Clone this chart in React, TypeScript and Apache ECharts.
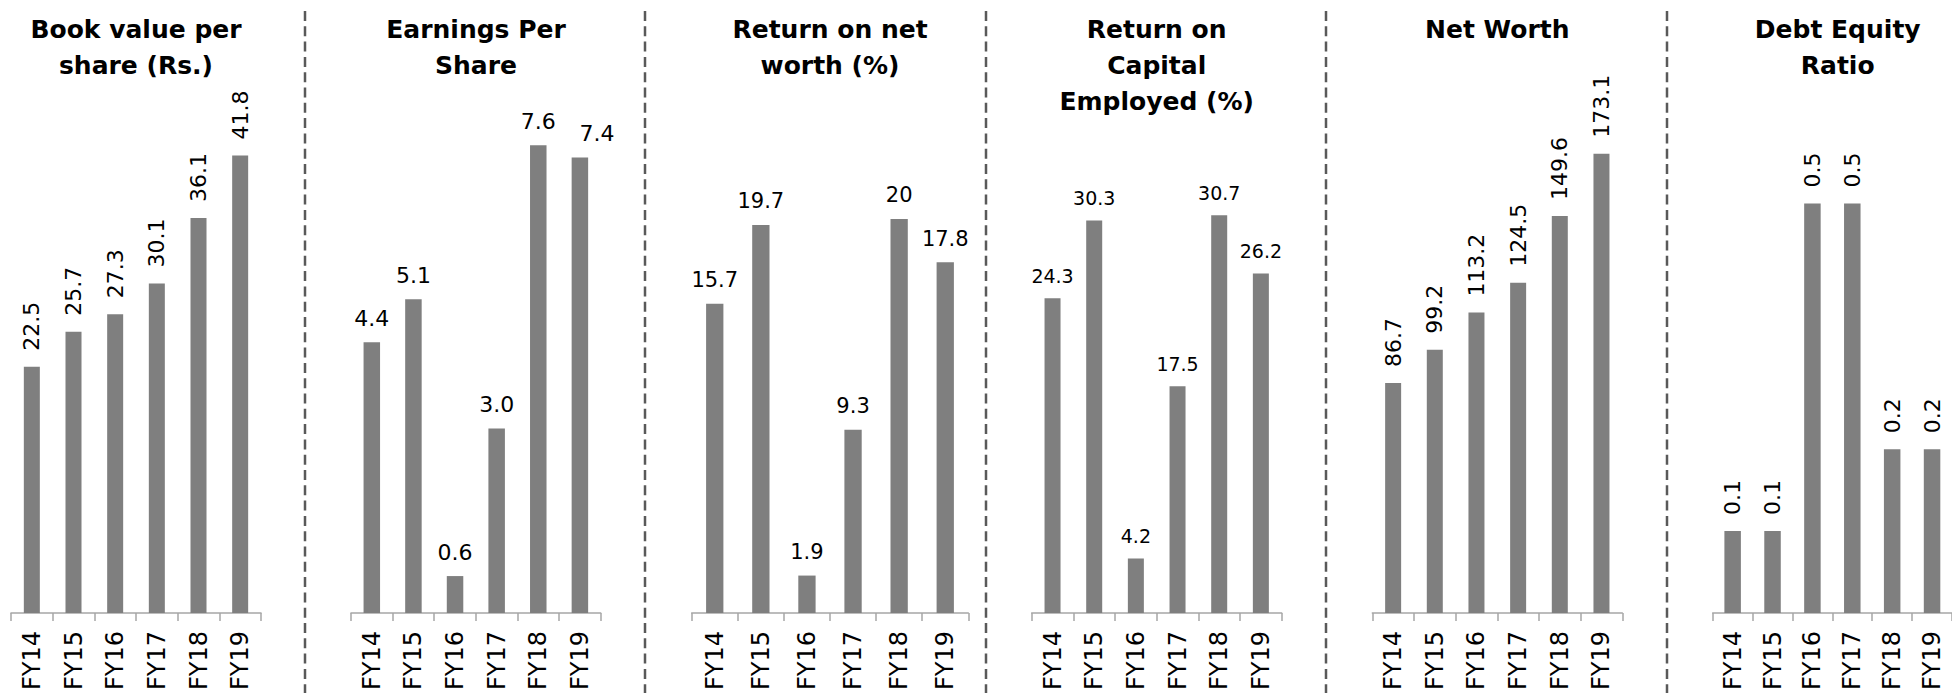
import React, { useEffect, useRef } from "react";
import * as echarts from "echarts";

const categories = ["FY14", "FY15", "FY16", "FY17", "FY18", "FY19"];
const bookValue = [22.5, 25.7, 27.3, 30.1, 36.1, 41.8];
const eps = [4.4, 5.1, 0.6, 3.0, 7.6, 7.4];
const ronw = [15.7, 19.7, 1.9, 9.3, 20, 17.8];
const roce = [24.3, 30.3, 4.2, 17.5, 30.7, 26.2];
const netWorth = [86.7, 99.2, 113.2, 124.5, 149.6, 173.1];
const debtEquity = [0.1, 0.1, 0.5, 0.5, 0.2, 0.2];
const titles = [
  "Book value per\nshare (Rs.)",
  "Earnings Per\nShare",
  "Return on net\nworth (%)",
  "Return on\nCapital\nEmployed (%)",
  "Net Worth",
  "Debt Equity\nRatio",
];

export default function App() {
  const ref = useRef<HTMLDivElement>(null);
  useEffect(() => {
    if (!ref.current) return;
    const chart = echarts.init(ref.current, null, { renderer: "svg" });
    const axisBottom = 613.5;
    const H = 693;
    const panels = [
      { data: bookValue, left: 11, width: 250, max: 45, ppu: 10.955, bw: 16, rot: true, fs: 22, fmt: (v: number) => v.toFixed(1) },
      { data: eps, left: 351, width: 249.7, max: 8, ppu: 61.6, bw: 16.5, rot: false, fs: 22, fmt: (v: number) => v.toFixed(1) },
      { data: ronw, left: 691.7, width: 276.6, max: 25, ppu: 19.72, bw: 17.3, rot: false, fs: 21, fmt: (v: number) => String(v) },
      { data: roce, left: 1031.7, width: 250, max: 35, ppu: 12.97, bw: 16, rot: false, fs: 19, fmt: (v: number) => String(v) },
      { data: netWorth, left: 1372.3, width: 250, max: 200, ppu: 2.656, bw: 16, rot: true, fs: 22, fmt: (v: number) => v.toFixed(1) },
      { data: debtEquity, left: 1712.7, width: 250, max: 0.6, ppu: 820, bw: 16.5, rot: true, fs: 22, fmt: (v: number) => v.toFixed(1) },
    ];
    const grid: any[] = [];
    const xAxis: any[] = [];
    const yAxis: any[] = [];
    const series: any[] = [];
    panels.forEach((p, i) => {
      const top = axisBottom - p.max * p.ppu;
      grid.push({ left: p.left, width: p.width, top, bottom: H - axisBottom, containLabel: false });
      xAxis.push({
        type: "category",
        gridIndex: i,
        data: categories,
        boundaryGap: true,
        axisLine: { show: true, lineStyle: { color: "#a6a6a6", width: 1.5 } },
        axisTick: { show: true, length: 8, alignWithLabel: false, lineStyle: { color: "#a6a6a6", width: 1.5 } },
        axisLabel: { rotate: 90, fontSize: 24, margin: 18, color: "#000", interval: 0, fontFamily: "DejaVu Sans" },
        splitLine: { show: false },
      });
      yAxis.push({ type: "value", gridIndex: i, min: 0, max: p.max, show: false, splitLine: { show: false } });
      const label: any = p.rot
        ? { show: true, position: "top", rotate: 90, align: "left", verticalAlign: "middle", distance: 16, fontSize: p.fs, color: "#000", fontFamily: "DejaVu Sans", formatter: (d: any) => p.fmt(d.value) }
        : { show: true, position: "top", distance: 13, fontSize: p.fs, color: "#000", fontFamily: "DejaVu Sans", formatter: (d: any) => p.fmt(d.value) };
      const data = p.data.map((v, j) => {
        if (i === 1 && j === 5) return { value: v, label: { offset: [17, 0] } };
        return v;
      });
      series.push({
        type: "bar",
        xAxisIndex: i,
        yAxisIndex: i,
        data,
        barWidth: p.bw,
        itemStyle: { color: "#7f7f7f" },
        label,
      });
    });
    const separators = [305, 645, 986, 1326, 1667];
    const graphic: any[] = separators.map((x) => ({
      type: "line",
      shape: { x1: x, y1: 11, x2: x, y2: 693 },
      style: { stroke: "#595959", lineWidth: 2.5, lineDash: [10, 5.3] },
    }));
    panels.forEach((p, i) => {
      graphic.push({
        type: "text",
        x: p.left + 125 + (i === 2 ? 13.3 : 0),
        y: 11,
        style: {
          text: titles[i],
          align: "center",
          textAlign: "center",
          verticalAlign: "top",
          textVerticalAlign: "top",
          font: "bold 25px 'DejaVu Sans'",
          lineHeight: 36,
          fill: "#000",
        },
      });
    });
    chart.setOption({
      animation: false,
      backgroundColor: "#fff",
      grid,
      xAxis,
      yAxis,
      series,
      graphic,
    });
    return () => chart.dispose();
  }, []);
  return <div ref={ref} style={{ position: "absolute", left: 0, top: 0, width: 1952, height: 693 }} />;
}
